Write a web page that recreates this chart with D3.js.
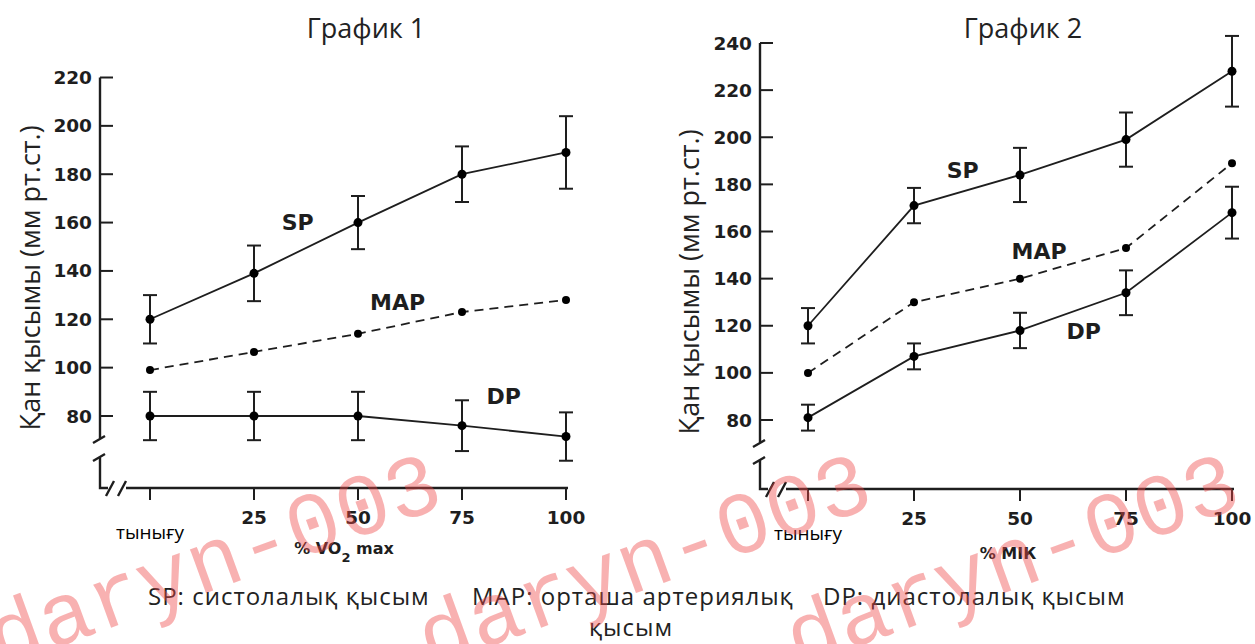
<!DOCTYPE html>
<html>
<head>
<meta charset="utf-8">
<script src="https://cdn.jsdelivr.net/npm/d3@7"></script>
<style>
  body { margin: 0; background: #fff; }
  svg { display: block; }
</style>
</head>
<body>
<div id="chart"></div>
<script>
// x levels (0 = rest) and their tick labels
const xLevels = [0, 25, 50, 75, 100];
const xTickLabels = ["тынығу", "25", "50", "75", "100"];

// График 1 (% VO2 max)
const yTicks1 = [80, 100, 120, 140, 160, 180, 200, 220];
const sp1 = [120, 139, 160, 180, 189];
const sp1Err = [10, 11.5, 11, 11.5, 15];
const map1 = [99, 106.5, 114, 123, 128];
const dp1 = [80, 80, 80, 76, 71.5];
const dp1Err = [10, 10, 10, 10.5, 10];

// График 2 (% МІК)
const yTicks2 = [80, 100, 120, 140, 160, 180, 200, 220, 240];
const sp2 = [120, 171, 184, 199, 228];
const sp2Err = [7.5, 7.5, 11.5, 11.5, 15];
const map2 = [100, 130, 140, 153, 189];
const dp2 = [81, 107, 118, 134, 168];
const dp2Err = [5.5, 5.5, 7.5, 9.5, 11];

const legendItems = ["SP: систолалық қысым", "MAP: орташа артериялық", "DP: диастолалық қысым"];

const W = 1255, H = 644;
const ink = "#1e1e1e";

const svg = d3.select("#chart").append("svg")
    .attr("width", W)
    .attr("height", H);

function drawChart(cfg) {
    const g = svg.append("g");
    const x = d3.scaleLinear().domain([0, 100]).range(cfg.xRange);
    const y = d3.scaleLinear().domain(cfg.yDomain).range(cfg.yRange);
    const ax = cfg.axisX, base = cfg.baseY;

    // title
    g.append("text")
        .attr("x", cfg.titleX).attr("y", 38)
        .attr("text-anchor", "middle")
        .style("font-family", "'Open Sans', sans-serif")
        .style("font-size", "27px")
        .style("fill", "#222")
        .text(cfg.title);

    // y axis label
    g.append("text")
        .attr("transform", `translate(${cfg.yLabelX},${cfg.yLabelY}) rotate(-90)`)
        .attr("text-anchor", "middle")
        .attr("dominant-baseline", "central")
        .style("font-family", "'Open Sans', sans-serif")
        .style("font-size", "27px")
        .style("fill", "#222")
        .text("Қан қысымы (мм рт.ст.)");

    // y axis with break
    const yTop = y(cfg.yDomain[1]);
    const axisPath = [
        `M${ax},${yTop}V${cfg.breakTop}`,
        `M${ax - 7},${cfg.breakTop + 4}L${ax + 5},${cfg.breakTop - 3}`,
        `M${ax - 7},${cfg.breakBot + 4}L${ax + 5},${cfg.breakBot - 3}`,
        `M${ax},${cfg.breakBot}V${base}H${ax + 8}`,
        `M${ax + 6},${base + 8}L${ax + 14},${base - 7}`,
        `M${ax + 18},${base + 8}L${ax + 26},${base - 7}`,
        `M${ax + 26},${base}H${x(100) + 2}`
    ].join("");
    g.append("path")
        .attr("d", axisPath)
        .attr("fill", "none")
        .attr("stroke", ink)
        .attr("stroke-width", 2.4);

    // y ticks (inside)
    g.selectAll(".ytick").data(cfg.yTicks).join("line")
        .attr("x1", ax).attr("x2", ax + 13)
        .attr("y1", d => y(d)).attr("y2", d => y(d))
        .attr("stroke", ink).attr("stroke-width", 2);
    g.selectAll(".ylab").data(cfg.yTicks).join("text")
        .attr("x", ax - 8).attr("y", d => y(d))
        .attr("text-anchor", "end")
        .attr("dominant-baseline", "central")
        .style("font-family", "'DejaVu Sans', sans-serif")
        .style("font-weight", "bold")
        .style("font-size", "18.5px")
        .style("fill", ink)
        .text(d => d);

    // x ticks
    g.selectAll(".xtick").data(xLevels).join("line")
        .attr("x1", d => x(d)).attr("x2", d => x(d))
        .attr("y1", base).attr("y2", base + 12)
        .attr("stroke", ink).attr("stroke-width", 2);
    g.selectAll(".xlab").data(xLevels.slice(1)).join("text")
        .attr("x", d => x(d)).attr("y", base + 29)
        .attr("text-anchor", "middle")
        .attr("dominant-baseline", "central")
        .style("font-family", "'DejaVu Sans', sans-serif")
        .style("font-weight", "bold")
        .style("font-size", "18.5px")
        .style("fill", ink)
        .text((d, i) => xTickLabels[i + 1]);
    g.append("text")
        .attr("x", x(xLevels[0])).attr("y", base + 44)
        .attr("text-anchor", "middle")
        .attr("dominant-baseline", "central")
        .style("font-family", "'Open Sans', sans-serif")
        .style("font-size", "19px")
        .style("fill", "#000")
        .text(xTickLabels[0]);

    // x axis title
    const xt = g.append("text")
        .attr("x", cfg.xTitleX).attr("y", cfg.xTitleY)
        .attr("text-anchor", "middle")
        .style("font-family", "'DejaVu Sans', sans-serif")
        .style("font-weight", "bold")
        .style("font-size", "16px")
        .style("fill", ink);
    cfg.xTitle.forEach(p => {
        const t = xt.append("tspan").text(p.t);
        if (p.sub) t.attr("baseline-shift", "sub").style("font-size", "13px");
    });

    const line = d3.line().x((d, i) => x(xLevels[i])).y(d => y(d));

    function series(vals, errs, dashed, r) {
        const s = g.append("g");
        s.append("path")
            .datum(vals)
            .attr("d", line)
            .attr("fill", "none")
            .attr("stroke", ink)
            .attr("stroke-width", 1.8)
            .attr("stroke-dasharray", dashed ? "9,6" : null);
        if (errs) {
            const e = s.selectAll(".err").data(vals).join("g");
            e.append("line")
                .attr("x1", (d, i) => x(xLevels[i])).attr("x2", (d, i) => x(xLevels[i]))
                .attr("y1", (d, i) => y(d + errs[i])).attr("y2", (d, i) => y(d - errs[i]))
                .attr("stroke", ink).attr("stroke-width", 2);
            [1, -1].forEach(sg => {
                e.append("line")
                    .attr("x1", (d, i) => x(xLevels[i]) - 7).attr("x2", (d, i) => x(xLevels[i]) + 7)
                    .attr("y1", (d, i) => y(d + sg * errs[i])).attr("y2", (d, i) => y(d + sg * errs[i]))
                    .attr("stroke", ink).attr("stroke-width", 2);
            });
        }
        s.selectAll("circle").data(vals).join("circle")
            .attr("cx", (d, i) => x(xLevels[i]))
            .attr("cy", d => y(d))
            .attr("r", r)
            .attr("fill", "#000");
    }
    series(cfg.sp, cfg.spErr, false, 4.5);
    series(cfg.map, null, true, 4);
    series(cfg.dp, cfg.dpErr, false, 4.5);

    // series labels
    cfg.labels.forEach(l => {
        g.append("text")
            .attr("x", x(l.x)).attr("y", y(l.y))
            .attr("text-anchor", "middle")
            .attr("dominant-baseline", "central")
            .style("font-family", "'DejaVu Sans', sans-serif")
            .style("font-weight", "bold")
            .style("font-size", "22px")
            .style("fill", ink)
            .text(l.t);
    });
}

drawChart({
    title: "График 1", titleX: 366,
    xRange: [150, 566], yDomain: [80, 220], yRange: [416, 77.5],
    axisX: 100, baseY: 488, breakTop: 439, breakBot: 457,
    yTicks: yTicks1, yLabelX: 29, yLabelY: 278,
    xTitle: [{t: "% VO"}, {t: "2", sub: true}, {t: " max"}], xTitleX: 344, xTitleY: 554,
    sp: sp1, spErr: sp1Err, map: map1, dp: dp1, dpErr: dp1Err,
    labels: [{t: "SP", x: 35.5, y: 160}, {t: "MAP", x: 59.5, y: 127}, {t: "DP", x: 85, y: 88}]
});

drawChart({
    title: "График 2", titleX: 1023,
    xRange: [808, 1232], yDomain: [80, 240], yRange: [420, 43],
    axisX: 760, baseY: 489, breakTop: 443, breakBot: 460,
    yTicks: yTicks2, yLabelX: 688, yLabelY: 282,
    xTitle: [{t: "% МІК"}], xTitleX: 1008, xTitleY: 559,
    sp: sp2, spErr: sp2Err, map: map2, dp: dp2, dpErr: dp2Err,
    labels: [{t: "SP", x: 36.5, y: 186}, {t: "MAP", x: 54.5, y: 151.5}, {t: "DP", x: 65, y: 117.5}]
});

// bottom legend
const legend = svg.append("g")
    .style("font-family", "'Open Sans', sans-serif")
    .style("font-size", "24px")
    .style("letter-spacing", "1px")
    .style("fill", "#222");
const legendX = [148, 472, 823];
legend.selectAll("text").data(legendItems).join("text")
    .attr("x", (d, i) => legendX[i]).attr("y", 605)
    .text(d => d);
legend.append("text")
    .attr("x", 631).attr("y", 636)
    .attr("text-anchor", "middle")
    .text("қысым");

// watermark
const wm = svg.append("g")
    .style("font-family", "'Liberation Mono', monospace")
    .style("font-size", "88px")
    .style("fill", "#f04848")
    .style("opacity", 0.42);
[[0, 668], [430, 668], [798, 668]].forEach(p => {
    wm.append("text")
        .attr("transform", `translate(${p[0]},${p[1]}) rotate(-20)`)
        .text("daryn-003");
});
</script>
</body>
</html>
